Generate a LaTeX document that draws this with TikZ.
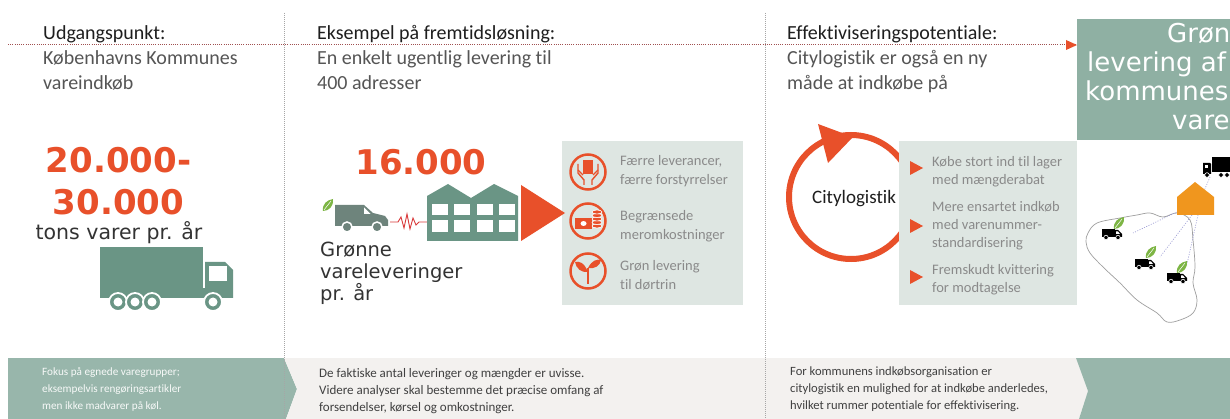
\documentclass[tikz,border=0pt]{standalone}
\usepackage{fontspec}
\setmainfont{Carlito}[Ligatures=NoCommon]
\newfontfamily\dv{DejaVu Sans}
\definecolor{orng}{HTML}{E8502A}
\definecolor{grn}{HTML}{6A9585}
\definecolor{vanc}{HTML}{6E847C}
\definecolor{pnl}{HTML}{DEE6E2}
\definecolor{boxg}{HTML}{8FB0A3}
\definecolor{botg}{HTML}{98B6AB}
\definecolor{botgray}{HTML}{F3F1EF}
\definecolor{ptext}{HTML}{8A8A8A}
\definecolor{leafc}{HTML}{7DB544}
\definecolor{dred}{HTML}{A05050}
\definecolor{hdark}{HTML}{1E1E1E}
\definecolor{hsub}{HTML}{555555}
\definecolor{house}{HTML}{F0961E}
\definecolor{zig}{HTML}{D9393A}
\begin{document}
\begin{tikzpicture}[x=1pt,y=-1pt,
  hd/.style={anchor=base west, inner sep=0, font=\fontsize{20}{20}\selectfont, text=hdark},
  sub/.style={anchor=base west, inner sep=0, font=\fontsize{20}{20}\selectfont, text=hsub},
  num/.style={anchor=base, inner sep=0, font=\dv\bfseries\fontsize{34}{34}\selectfont, text=orng},
  big/.style={anchor=base west, inner sep=0, font=\dv\fontsize{19.5}{19.5}\selectfont, text=black!80},
  ptx/.style={anchor=base west, inner sep=0, font=\fontsize{14.5}{14.5}\selectfont, text=ptext},
  btx/.style={anchor=base west, inner sep=0},
  wtx/.style={anchor=base west, inner sep=0, font=\dv\fontsize{26}{26}\selectfont, text=white},
  ring/.style={draw=orng, line width=2.5},
  sep/.style={draw=gray!70, line width=1, dash pattern=on 1pt off 1pt},
  minivan/.pic={
    \fill[black] (0,1) rectangle (13,9);
    \fill[black] (13,2) -- (16,2) -- (20,6) -- (20,9) -- (13,9) -- cycle;
    \fill[white] (14,3.5) -- (16,3.5) -- (18,6) -- (14,6) -- cycle;
    \filldraw[fill=black, draw=white, line width=0.6] (4,9.5) circle (2.2);
    \filldraw[fill=black, draw=white, line width=0.6] (16,9.5) circle (2.2);
  },
  leafpic/.pic={
    \fill[leafc] (0,0) .. controls (-1,-7) and (4,-11) .. (10,-12) .. controls (11,-5) and (6,0) .. cycle;
    \draw[white, line width=0.5] (1,-1) -- (8,-10);
  }
]
\useasboundingbox (0,0) rectangle (1230,419);
\clip (0,0) rectangle (1230,419);
\fill[white] (0,0) rectangle (1230,419);

% ---------- bottom strip ----------
\fill[botg] (8,358) -- (284,358) -- (297,389) -- (286,419) -- (8,419) -- cycle;
\fill[botgray] (284,358) -- (1076,358) -- (1088,391) -- (1079,419) -- (286,419) -- (297,389) -- cycle;
\fill[botg] (1076,358) -- (1230,358) -- (1230,419) -- (1079,419) -- (1088,391) -- cycle;

% ---------- separators ----------
\coordinate (s1t) at (284,13); \coordinate (s1b) at (284,419);
\coordinate (s2t) at (765,13); \coordinate (s2b) at (765,419);
\draw[sep] (s1t) -- (s1b);
\draw[sep] (s2t) -- (s2b);

% ---------- top right box ----------
\fill[boxg] (1077,19) rectangle (1230,140);
\node[wtx] (w1) at (1167,43) {Grønne};
\node[wtx] (w2) at (1087,72) {levering af};
\node[wtx] (w3) at (1085,101) {kommunes};
\node[wtx] (w4) at (1172,130) {varer};

% ---------- dotted timeline ----------
\coordinate (ls) at (8,45);
\coordinate (le) at (1077,45);
\draw[dred, line width=1, dash pattern=on 1pt off 1.2pt] (ls) -- (le);
\fill[orng] (le) -- ++(-11,-5) -- ++(0,10) -- cycle;

% ---------- column 1 ----------
\node[hd] (h1) at (43,40) {Udgangspunkt:};
\node[sub] (h1a) at (43,65) {Københavns Kommunes};
\node[sub] (h1b) at (43,90) {vareindkøb};
\node[num] (n1) at (118.5,173) {20.000-};
\node[num] (n2) at (118.5,215) {30.000};
\node[anchor=base, inner sep=0, font=\dv\fontsize{20.5}{20.5}\selectfont, text=black!80] (t1) at (119,240) {tons varer pr. år};
% truck
\fill[grn] (100,247) rectangle (203,289);
\fill[grn] (100,288) rectangle (233,298);
\fill[grn] (205,262) -- (225,262) -- (233,270) -- (233,298) -- (205,298) -- cycle;
\fill[white] (209,266) rectangle (227,281);
\foreach \wx in {118,135,152,213}{
  \filldraw[fill=grn, draw=white, line width=1.8] (\wx,302) circle (9);
  \fill[white] (\wx,302) circle (4.5);
}

% ---------- column 2 ----------
\node[hd] (h2) at (317,40) {Eksempel på fremtidsløsning:};
\node[sub] (h2a) at (317,65) {En enkelt ugentlig levering til};
\node[sub] (h2b) at (317,90) {400 adresser};
\node[num] (n3) at (421,175) {16.000};
% van
\fill[vanc] (335,205) -- (364,205) -- (373,213) -- (385,216) -- (388,220) -- (388,226) -- (335,226) -- cycle;
\fill[white] (364,207.5) -- (370.5,214) -- (364,214) -- cycle;
\filldraw[fill=vanc, draw=white, line width=1.5] (347,227) circle (5);
\filldraw[fill=vanc, draw=white, line width=1.5] (377,227) circle (5);
\pic at (323,211) {leafpic};
% zigzag
\coordinate (zs) at (390,222);
\coordinate (ze) at (427,222);
\draw[zig, line width=0.9] (zs) -- (398,222) -- (401,217) -- (404,228) -- (407,214) -- (410,229) -- (413,218) -- (416,225) -- (419,222) -- (ze);
% factory
\fill[grn] (427,241) -- (427,196) -- (448,184) -- (471,198) -- (494,184) -- (518,196) -- (518,241) -- cycle;
\foreach \fx in {432,454,477,499}{
  \fill[white] (\fx,204) rectangle ++(16,11);
  \fill[white] (\fx,220) rectangle ++(16,12);
}
\node[big] (g1) at (320,257) {Grønne};
\node[big] (g2) at (320,279) {vareleveringer};
\node[big] (g3) at (320,301) {pr. år};
% panel
\fill[pnl] (562,141) rectangle (743,305);
\fill[orng] (521,185) -- (565,213) -- (521,241) -- cycle;
\draw[ring] (588,172) circle (17.5);
\draw[ring] (588,221) circle (17.5);
\draw[ring] (588,271) circle (17.5);
% icon 1: hands and box
\fill[orng] (583,160) rectangle (593,174);
\draw[orng, line width=1.4, line join=round] (578,164) -- (578,173) -- (584,180) -- (584,185);
\draw[orng, line width=1.4, line join=round] (598,164) -- (598,173) -- (592,180) -- (592,185);
\draw[orng, line width=1.2] (578,170) -- (583,175);
\draw[orng, line width=1.2] (598,170) -- (593,175);
% icon 2: money
\fill[orng] (575,218) rectangle (592,229);
\fill[white] (583.5,223.5) ellipse (3 and 2.5);
\foreach \cy in {226,222.5,219,215.5,212}{
  \filldraw[fill=orng, draw=white, line width=0.6] (597,\cy) ellipse (5 and 2);
}
% icon 3: sprout
\draw[orng, line width=1.6] (588,284) -- (588,268);
\fill[orng] (588,272) .. controls (584,262) and (579,261) .. (575,262) .. controls (576,268) and (581,273) .. cycle;
\fill[orng] (588,268) .. controls (592,260) and (597,259) .. (601,260) .. controls (600,266) and (595,269) .. cycle;
\node[ptx] (p1) at (620,166) {Færre leverancer,};
\node[ptx] (p2) at (620,185) {færre forstyrrelser};
\node[ptx] (p3) at (620,221) {Begrænsede};
\node[ptx] (p4) at (620,240) {meromkostninger};
\node[ptx] (p5) at (620,271) {Grøn levering};
\node[ptx] (p6) at (620,290) {til dørtrin};

% ---------- column 3 ----------
\node[hd] (h3) at (787,40) {Effektiviseringspotentiale:};
\node[sub] (h3a) at (787,65) {Citylogistik er også en ny};
\node[sub] (h3b) at (787,90) {måde at indkøbe på};
\draw[orng, line width=6] (851,197) circle (62);
\fill[orng] (818,124) -- (853,137) -- (828,163) -- cycle;
\node[anchor=base west, inner sep=0, font=\fontsize{19}{19}\selectfont, text=hdark] (cl) at (812,204) {Citylogistik};
\fill[pnl] (899,141) rectangle (1077,305);
\foreach \ty in {168,226,277}{
  \fill[orng] (910,\ty-7) -- (923,\ty) -- (910,\ty+7) -- cycle;
}
\node[ptx] (r1) at (932,167) {Købe stort ind til lager};
\node[ptx] (r2) at (932,185) {med mængderabat};
\node[ptx] (r3) at (932,212) {Mere ensartet indkøb};
\node[ptx] (r4) at (932,230) {med varenummer-};
\node[ptx] (r5) at (932,248) {standardisering};
\node[ptx] (r6) at (932,275) {Fremskudt kvittering};
\node[ptx] (r7) at (932,293) {for modtagelse};

% ---------- map ----------
\draw[gray!75, line width=0.7] plot[smooth cycle, tension=0.6] coordinates {
 (1088,233) (1097,223) (1120,218) (1137,215) (1150,213) (1163,217) (1177,213) (1190,220)
 (1193,240) (1195,267) (1193,283) (1197,300) (1193,313) (1180,320) (1167,322) (1157,313)
 (1137,300) (1120,283) (1103,267) (1090,253) (1086,242)};
\coordinate (hs) at (1195,215);
\coordinate (tk) at (1210,177);
\coordinate (hr) at (1204,191);
\coordinate (v1) at (1133,233);
\coordinate (v2) at (1160,257);
\coordinate (v3) at (1187,264);
\draw[blue!40!gray!60, line width=0.6, dash pattern=on 1pt off 1.5pt] (1181,210) -- (v1);
\draw[blue!40!gray!60, line width=0.6, dash pattern=on 1pt off 1.5pt] (1192,215) -- (v2);
\draw[blue!40!gray!60, line width=0.6, dash pattern=on 1pt off 1.5pt] (1198,215) -- (v3);
\draw[blue!40!gray!60, line width=0.6, dash pattern=on 1pt off 1.5pt] (tk) -- (hr);
\fill[house] (1177,197) -- (1195,182) -- (1214,197) -- (1214,215) -- (1177,215) -- cycle;
% black truck
\fill[black] (1212,157) rectangle (1236,172);
\fill[black] (1203,163) -- (1210,163) -- (1211,164) -- (1211,174) -- (1203,174) -- cycle;
\fill[white] (1204.5,165) rectangle (1208,168.5);
\foreach \wx in {1207,1221,1227}{
  \filldraw[fill=black, draw=white, line width=0.6] (\wx,175) circle (2.3);
}
\pic at (1102,228) {minivan};
\pic at (1135,258) {minivan};
\pic at (1167,272) {minivan};
\pic at (1114,229) {leafpic};
\pic at (1146,258) {leafpic};
\pic at (1177,273) {leafpic};

% ---------- bottom texts ----------
\node[btx, font=\fontsize{11.2}{11.2}\selectfont, text=white!92!botg] (b1) at (42,375) {Fokus på egnede varegrupper;};
\node[btx, font=\fontsize{11.2}{11.2}\selectfont, text=white!92!botg] (b2) at (42,392) {eksempelvis rengøringsartikler};
\node[btx, font=\fontsize{11.2}{11.2}\selectfont, text=white!92!botg] (b3) at (42,409) {men ikke madvarer på køl.};
\node[btx, font=\fontsize{13}{13}\selectfont, text=black!75] (b4) at (319,377) {De faktiske antal leveringer og mængder er uvisse.};
\node[btx, font=\fontsize{13}{13}\selectfont, text=black!75] (b5) at (319,394) {Videre analyser skal bestemme det præcise omfang af};
\node[btx, font=\fontsize{13}{13}\selectfont, text=black!75] (b6) at (319,411) {forsendelser, kørsel og omkostninger.};
\node[btx, font=\fontsize{12.6}{12.6}\selectfont, text=black!75] (b7) at (790,375) {For kommunens indkøbsorganisation er};
\node[btx, font=\fontsize{12.6}{12.6}\selectfont, text=black!75] (b8) at (790,392) {citylogistik en mulighed for at indkøbe anderledes,};
\node[btx, font=\fontsize{12.6}{12.6}\selectfont, text=black!75] (b9) at (790,409) {hvilket rummer potentiale for effektivisering.};
\end{tikzpicture}
\end{document}
